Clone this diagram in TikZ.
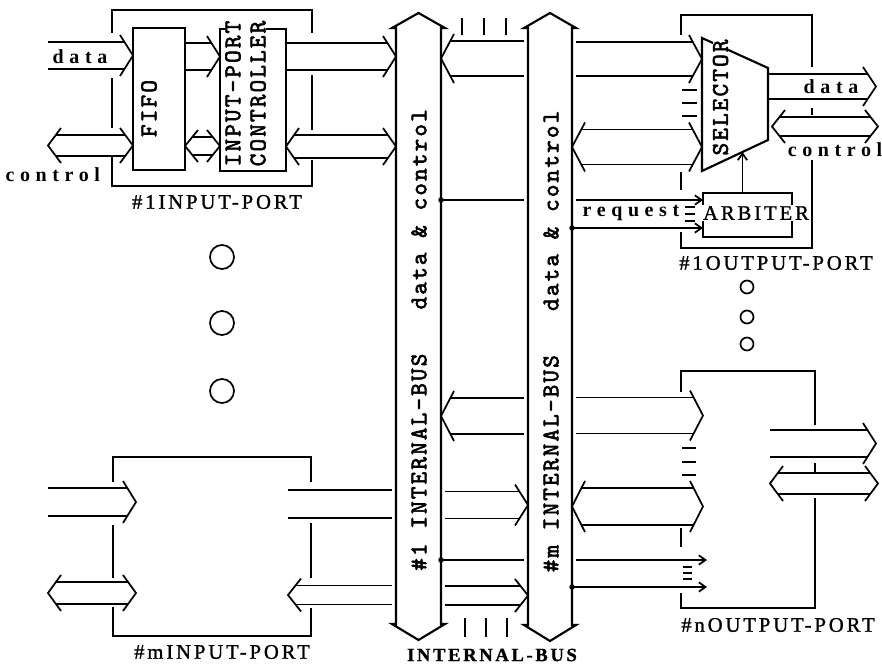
\documentclass[tikz,border=0pt]{standalone}
\usepackage{fontspec}
\setmainfont{Liberation Serif}
\newfontfamily\spacedfont{Liberation Serif}[LetterSpace=28]
\newfontfamily\capsfont{Liberation Serif}[LetterSpace=14,FakeBold=1.2]
\newfontfamily\typefont{lmmono10-regular.otf}[LetterSpace=9,FakeBold=2.5]
\usetikzlibrary{arrows.meta,positioning,calc}

\newcommand\pxu{0.75pt}
\newcommand\chd{13}
\newcommand\che{7}
% wide bus arrow: left point, right point, centre y, half width, head left (0/1), head right (0/1)
\newcommand\wide[6]{%
  \draw[wire] ($(#1|-0,#3-#4)+({#5*\chd*#4/(#4+\che)},0)$) -- ($(#2|-0,#3-#4)+({-#6*\chd*#4/(#4+\che)},0)$)
              ($(#1|-0,#3+#4)+({#5*\chd*#4/(#4+\che)},0)$) -- ($(#2|-0,#3+#4)+({-#6*\chd*#4/(#4+\che)},0)$);
  \ifnum#5=1 \draw[wire] ($(#1|-0,#3)+(\chd,{-#4-\che})$) -- (#1|-0,#3) -- ($(#1|-0,#3)+(\chd,{#4+\che})$);\fi
  \ifnum#6=1 \draw[wire] ($(#2|-0,#3)+(-\chd,{-#4-\che})$) -- (#2|-0,#3) -- ($(#2|-0,#3)+(-\chd,{#4+\che})$);\fi}

\begin{document}
\begin{tikzpicture}[x=0.75pt,y=-0.75pt,
  every node/.style={inner sep=0pt,outer sep=0pt},
  boxline/.style={line width=1.6pt},
  portline/.style={line width=2.2pt},
  wire/.style={line width=1.3pt},
  block/.style={draw,boxline,rectangle},
  dot/.style={circle,fill,minimum size=5.5*\pxu},
  barb/.style={-{Straight Barb[length=5pt,width=7pt]}},
  vtext/.style={font=\typefont\fontsize{18}{18.8}\selectfont,rotate=90},
  lowlbl/.style={font=\spacedfont\bfseries\fontsize{15}{15}\selectfont},
  capslbl/.style={font=\capsfont\fontsize{15.5}{15.5}\selectfont},
  buslbl/.style={font=\capsfont\bfseries\fontsize{14}{14}\selectfont}]
\useasboundingbox (0,0) rectangle (882,664);

% #1 input port
\node[block,minimum width=52*\pxu,minimum height=142*\pxu] (fifo) at (159,99) {};
\node[vtext] (fifolbl) at (149,108.5) {FIFO};
\node[block,minimum width=66*\pxu,minimum height=142*\pxu] (ctl) at (253,100) {};
\node[vtext,align=center,fill=white] (ctllbl) at (245.5,93.5) {INPUT-PORT\\CONTROLLER};
\draw[portline] (112,33) -- (112,10) -- (312,10) -- (312,33);
\draw[portline] (112,78) -- (112,128) (312,75) -- (312,130);
\draw[portline] (112,157) -- (112,186) -- (312,186) -- (312,160);
\node[capslbl] (in1lbl) at (217,202) {\#1INPUT-PORT};

% #m input port
\draw[portline] (113,482) -- (113,457) -- (311,457) -- (311,482);
\draw[portline] (113,525) -- (113,578) (311,523) -- (311,578);
\draw[portline] (113,607) -- (113,636) -- (311,636) -- (311,608);
\node[capslbl] (inmlbl) at (222,652) {\#mINPUT-PORT};

% internal buses
\node[minimum width=45*\pxu,minimum height=596*\pxu] (bus1) at (418.5,326) {};
\node[minimum width=44*\pxu,minimum height=597*\pxu] (busm) at (550,326.5) {};
\foreach \b in {bus1,busm}
  \draw[boxline] (\b.south west) -- (\b.north west) -- ++(-4,0) -- ($(\b.north)+(0,-15)$)
    -- ($(\b.north east)+(4,0)$) -- (\b.north east) -- (\b.south east) -- ++(4,0)
    -- ($(\b.south)+(0,16)$) -- ($(\b.south west)+(-4,0)$) -- cycle;
\node[vtext] (bus1lbl) at (419,340) {\#1~INTERNAL-BUS~~~data~\&~control};
\node[vtext] (busmlbl) at (551,341.5) {\#m~INTERNAL-BUS~~~data~\&~control};
\node[buslbl] (buslbl) at (492,655) {INTERNAL-BUS};
\coordinate (b1w) at ($(bus1.west)+(-4,0)$);
\coordinate (b1e) at ($(bus1.east)+(4,0)$);
\coordinate (bmw) at ($(busm.west)+(-4,0)$);
\coordinate (bme) at ($(busm.east)+(4,0)$);
\foreach \x in {462,484,506} \draw[wire] (\x,18) -- (\x,35);
\foreach \x in {465,486,507} \draw[wire] (\x,618) -- (\x,637);

% #1 output port
\node[minimum width=66*\pxu,minimum height=133*\pxu] (sel) at (735,104.5) {};
\draw[boxline] (sel.north west) -- (sel.east|-0,68) -- (sel.east|-0,140) -- (sel.south west) -- cycle;
\node[vtext,fill=white] (sellbl) at (720.5,97.5) {SELECTOR};
\node[block,minimum width=89*\pxu,minimum height=44*\pxu] (arb) at (747.5,215) {};
\node[capslbl,fill=white,inner sep=1pt] (arblbl) at (756,213) {ARBITER};
\draw[portline] (681,35) -- (681,15) -- (812,15) -- (812,67);
\draw[portline] (681,172) -- (681,190) (812,108) -- (812,115);
\draw[portline] (681,232) -- (681,248) -- (812,248) -- (812,160);
\node[capslbl] (out1lbl) at (776,263) {\#1OUTPUT-PORT};

% #n output port
\draw[portline] (681,392) -- (681,371) -- (815,371) -- (815,425);
\draw[portline] (681,528) -- (681,547) (815,463) -- (815,472);
\draw[portline] (681,593) -- (681,608) -- (815,608) -- (815,498);
\node[capslbl] (outnlbl) at (778,625) {\#nOUTPUT-PORT};

\coordinate (inL) at (48,0);
\coordinate (portmL) at (136,0);
\coordinate (portmR) at (288,0);
\coordinate (selc) at (772,0);
\coordinate (portn) at (703,0);
\coordinate (portnT) at (707,0);
\coordinate (portnO) at (770,0);
\coordinate (outR) at (876,0);
\coordinate (outC) at (878,0);

\wide{inL}{fifo.west}{55.5}{13.5}{0}{1}
\wide{inL}{fifo.west}{145.5}{10.5}{1}{1}
\wide{fifo.east}{ctl.west}{56.5}{13.5}{0}{1}
\wide{fifo.east}{ctl.west}{146}{9}{1}{1}
\wide{ctl.east}{bus1.west}{56.5}{13.5}{0}{1}
\wide{ctl.east}{bus1.west}{146.5}{11.5}{1}{1}
\wide{bus1.east}{bmw}{58.5}{17.5}{1}{0}
\wide{bme}{sel.west}{59}{17}{0}{1}
\wide{busm.east}{sel.west}{147}{17.5}{1}{1}
\wide{sel.east}{outR}{86.5}{12.5}{0}{1}
\wide{selc}{outC}{126.5}{9.5}{1}{1}
\wide{bus1.east}{bmw}{416}{18}{1}{0}
\wide{bme}{portn}{415.5}{18}{0}{1}
\wide{busm.east}{portn}{506.5}{18.5}{1}{1}
\wide{portnO}{outR}{443.5}{13.5}{0}{1}
\wide{portnO}{outC}{483.5}{10.5}{1}{1}
\wide{inL}{portmL}{502}{14}{0}{1}
\wide{inL}{portmL}{593}{11}{1}{1}
\wide{portmR}{b1w}{504}{14}{0}{0}
\wide{b1e}{busm.west}{505}{13.5}{0}{1}
\wide{portmR}{b1w}{595}{9.5}{1}{0}
\wide{b1e}{busm.west}{595.5}{9.5}{0}{1}

\foreach \y in {90,103,116} \draw[wire] (682,\y) -- (697,\y);
\foreach \y in {448,462,475} \draw[wire] (682,\y) -- (696,\y);

% request lines
\node[dot] (req1) at (bus1.east|-0,200) {};
\node[dot] (req2) at (busm.east|-0,228) {};
\draw[wire] (req1.center) -- (bmw|-req1);
\draw[wire,barb] (bme|-req1) -- (arb.west|-req1);
\draw[wire,barb] (req2.center) -- (arb.west|-req2);
\foreach \y in {207,214,221} \draw[wire,line width=1pt] (685,\y) -- (695,\y);
\node[lowlbl] (reqlbl) at (631,213) {request};
\draw[wire,barb] ($(arb.north)+(-5,0)$) -- ++(0,-41);

\node[dot] (ctr1) at (bus1.east|-0,560) {};
\node[dot] (ctr2) at (busm.east|-0,587) {};
\draw[wire] (ctr1.center) -- (bmw|-ctr1);
\draw[wire,barb] (bme|-ctr1) -- (portnT|-ctr1);
\draw[wire,barb] (ctr2.center) -- (portnT|-ctr2);
\foreach \y in {567,573,579} \draw[wire,line width=1pt] (683,\y) -- (692,\y);

\node[lowlbl] (datain) at (80,57) {data};
\node[lowlbl,anchor=east] (ctlin) at (100,175) {control};
\node[lowlbl] (dataout) at (831,87) {data};
\node[lowlbl] (ctlout) at (835,150) {control};

\foreach \y in {257,323,391} \draw[line width=1.3pt] (222,\y) circle (12);
\foreach \y in {287,317,344} \draw[line width=1.3pt] (747,\y) circle (6.5);
\end{tikzpicture}
\end{document}
